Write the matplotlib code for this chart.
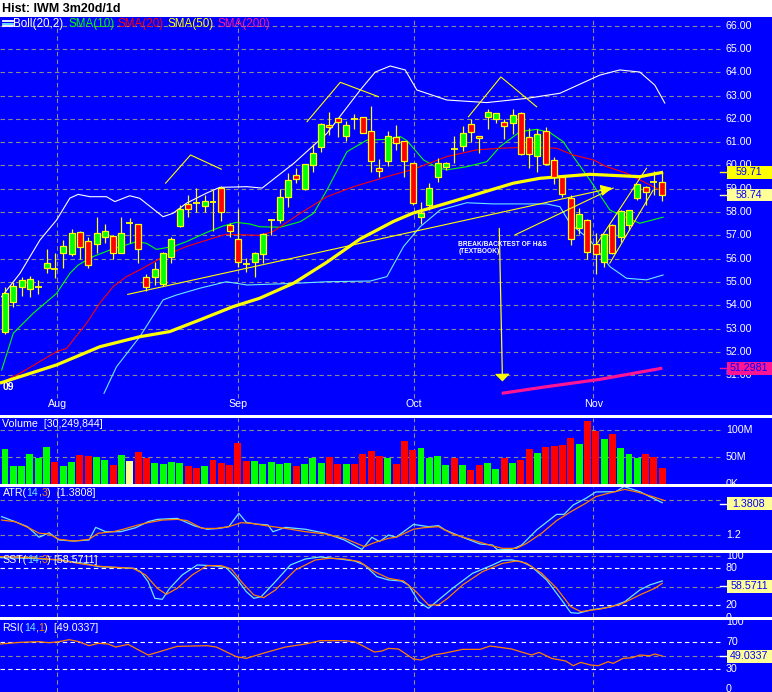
import matplotlib
matplotlib.use("Agg")
import matplotlib.pyplot as plt
from matplotlib.patches import Rectangle
from matplotlib.lines import Line2D

W, H = 772, 692
FONT = ["Liberation Sans", "DejaVu Sans"]
plt.rcParams["font.family"] = FONT

BLUE = "#0000FF"
GRID = "#8c8c8c"
YELLOW = "#FFFF00"
PALE = "#FFFF99"
GREEN = "#00FF00"
RED = "#FF0000"
PINK = "#FF1493"
CYAN = "#70E8FF"
ORANGE = "#FF8000"

# bar k sits at pixel x = 5 + 8.32 * k
X0, DX = 5.0, 8.32


def kx(px):
    return (px - X0) / DX


XMIN, XMAX = kx(0), kx(W)
GRID_END = kx(723)
LABEL_X = kx(726)

# ---- daily candles, IWM 23 Jul - 12 Nov 2009
opens = [52.87, 54.15, 54.77, 54.71, 54.80, 55.59, 55.56, 56.23, 56.19, 57.16,
         56.75, 56.62, 56.92, 56.97, 56.26, 57.55, 57.47, 55.23, 55.20, 54.90,
         56.09, 57.42, 58.35, 58.38, 58.26, 58.42, 59.02, 57.43, 56.83, 55.76,
         55.87, 56.19, 57.66, 57.66, 58.63, 59.58, 58.98, 60.01, 60.78, 61.75,
         62.05, 61.28, 61.99, 62.09, 61.49, 59.88, 60.21, 61.24, 61.07, 60.09,
         57.78, 58.30, 59.49, 59.95, 60.69, 60.84, 61.77, 61.27, 62.07, 61.98,
         61.85, 61.84, 62.24, 61.21, 60.40, 61.48, 60.24, 59.52, 58.59, 57.30,
         57.66, 56.62, 55.87, 57.45, 56.95, 57.45, 58.59, 59.06, 59.29, 59.29]
highs = [54.80, 55.01, 55.23, 55.26, 55.09, 56.40, 56.26, 56.80, 57.27, 57.20,
         56.95, 57.80, 57.47, 57.02, 57.80, 57.73, 57.50, 55.34, 55.87, 56.30,
         56.95, 58.30, 58.72, 59.02, 58.73, 58.95, 59.12, 57.55, 58.12, 56.02,
         56.30, 57.10, 57.70, 58.99, 59.69, 59.91, 60.06, 60.92, 61.81, 62.30,
         62.05, 61.92, 62.21, 62.10, 62.55, 60.26, 61.49, 61.74, 61.07, 60.09,
         58.45, 59.23, 60.31, 60.16, 61.27, 61.70, 61.98, 61.27, 62.41, 62.27,
         61.98, 62.41, 62.30, 61.60, 61.55, 61.67, 60.38, 59.59, 58.73, 58.16,
         57.70, 57.09, 57.05, 57.50, 58.09, 58.10, 59.21, 59.10, 59.76, 59.72]
lows = [52.77, 53.94, 54.40, 54.34, 54.48, 55.37, 55.16, 55.59, 56.12, 55.97,
        55.59, 56.26, 56.69, 55.97, 56.23, 56.66, 55.80, 54.63, 54.87, 54.83,
        55.83, 57.35, 57.80, 58.02, 58.02, 57.20, 57.63, 56.92, 55.66, 55.44,
        55.20, 55.80, 57.02, 57.52, 58.20, 59.23, 58.95, 59.74, 60.59, 61.31,
        61.24, 61.07, 61.55, 61.40, 59.74, 59.49, 59.98, 60.67, 59.52, 58.30,
        57.49, 58.09, 59.31, 59.81, 60.12, 60.62, 61.02, 60.52, 61.55, 61.81,
        61.12, 61.35, 60.45, 59.90, 59.74, 60.02, 59.21, 58.66, 56.59, 57.06,
        56.00, 55.33, 55.66, 56.20, 56.73, 57.23, 58.50, 58.30, 58.73, 58.49]
closes = [54.51, 54.83, 55.09, 55.11, 54.80, 55.80, 55.56, 56.56, 57.09, 56.52,
          55.72, 57.09, 57.17, 56.26, 57.09, 57.55, 56.40, 54.80, 55.54, 56.23,
          56.83, 58.12, 58.12, 58.38, 58.49, 58.42, 58.02, 57.17, 55.87, 55.76,
          56.23, 57.05, 57.66, 58.63, 59.38, 59.41, 60.06, 60.52, 61.77, 61.64,
          61.88, 61.72, 61.99, 61.41, 60.18, 59.78, 61.27, 60.95, 60.21, 58.40,
          57.97, 59.02, 60.12, 60.12, 60.69, 61.38, 61.42, 61.17, 62.31, 62.27,
          61.69, 62.15, 60.49, 60.49, 61.36, 60.06, 59.52, 58.78, 56.85, 57.90,
          56.30, 56.19, 57.05, 56.23, 58.05, 58.09, 59.21, 58.86, 59.29, 58.74]

# volume in millions, colour code g/r/y per bar
volume = [66, 33, 34, 56, 49, 69, 41, 33, 41, 55, 52, 51, 45, 36, 54, 43, 60, 49, 40, 38,
          41, 40, 34, 30, 34, 45, 40, 36, 77, 44, 43, 38, 41, 38, 40, 33, 38, 49, 40, 51,
          38, 38, 38, 56, 62, 52, 49, 38, 81, 64, 67, 49, 52, 36, 49, 36, 27, 36, 40, 28,
          49, 40, 45, 66, 58, 69, 71, 73, 86, 75, 118, 99, 84, 93, 67, 56, 49, 56, 51, 30]
vol_colors = ("ggggggrggrrggrgyrrggggrrgrrrrrgggggrgggrrgrrrrgrrrggggrgrrggrgrrgrrrrgrrgrgggrrr")

month_pos = [6.3, 28.0, 49.1, 70.7]
month_names = ["Aug", "Sep", "Oct", "Nov"]

# ---- overlays (bar index, price)
sma10_x = [-0.4, 1.0, 3.4, 6.2, 7.8, 8.8, 10.6, 12.6, 15.8, 17.0, 18.2, 20.2, 21.8, 24.2,
           26.2, 27.8, 29.4, 30.6, 33.1, 35.5, 37.1, 38.7, 41.1, 43.5, 45.9, 47.5, 48.3,
           50.3, 51.9, 53.1, 55.5, 57.9, 59.5, 61.9, 63.9, 65.5, 67.1, 68.3, 70.3, 72.7,
           73.9, 76.3, 79.1]
sma10 = [51.22, 52.80, 53.66, 54.51, 55.37, 55.73, 56.09, 56.37, 56.73, 56.66, 56.40,
         56.52, 56.73, 57.12, 57.40, 57.56, 57.49, 57.37, 57.35, 57.59, 57.95, 58.95,
         60.59, 61.09, 61.12, 61.24, 61.07, 60.24, 59.92, 59.81, 59.95, 60.16, 60.81,
         61.45, 61.55, 61.41, 61.02, 60.38, 59.38, 58.09, 57.88, 57.52, 57.78]
sma20_x = [-0.6, 1.8, 6.2, 7.4, 9.8, 11.4, 13.0, 14.6, 16.2, 19.4, 21.8, 25.0, 26.6, 30.6,
           32.2, 35.5, 38.7, 41.9, 45.9, 49.1, 53.1, 56.7, 59.5, 62.7, 66.3, 68.3, 70.7,
           72.3, 74.7, 76.3, 78.7]
sma20 = [50.65, 51.08, 52.01, 52.15, 53.23, 54.09, 54.80, 55.23, 55.52, 56.16, 56.52,
         56.88, 57.05, 57.00, 57.16, 57.95, 58.66, 59.09, 59.52, 59.84, 60.38, 60.67,
         60.74, 60.78, 60.74, 60.45, 60.24, 59.95, 59.67, 59.38, 58.95]
sma50_x = [-0.6, 6.2, 11.4, 16.2, 19.8, 23.4, 27.4, 30.6, 34.7, 38.7, 42.7, 46.7, 49.0,
           53.1, 57.1, 61.1, 64.3, 70.3, 76.3, 79.1]
sma50 = [50.66, 51.44, 52.22, 52.65, 52.87, 53.37, 53.94, 54.30, 54.95, 55.85, 56.85,
         57.60, 57.95, 58.38, 58.81, 59.24, 59.45, 59.62, 59.52, 59.71]
sma200_x = [59.7, 65.0, 71.5, 79.0]
sma200 = [50.22, 50.50, 50.82, 51.30]
bb_up_x = [-0.4, 1.8, 4.2, 6.2, 7.8, 8.8, 10.2, 12.2, 13.2, 15.0, 16.2, 19.0, 20.2, 21.8,
           24.2, 25.8, 29.1, 30.9, 34.7, 38.7, 42.7, 44.5, 46.3, 48.1, 49.5, 53.1, 57.9,
           62.7, 66.7, 71.5, 73.9, 76.3, 78.1, 79.3]
bb_up = [54.37, 55.37, 56.80, 57.66, 58.60, 58.76, 58.66, 58.66, 58.45, 58.70, 58.59,
         57.80, 57.95, 58.38, 58.81, 59.06, 59.09, 59.03, 60.09, 61.38, 63.24, 64.01,
         64.27, 64.10, 63.24, 62.81, 62.70, 62.88, 63.10, 63.88, 64.10, 64.01, 63.45, 62.68]
bb_lo_x = [11.9, 13.4, 16.2, 19.0, 20.6, 23.4, 26.6, 29.1, 34.7, 38.7, 43.9, 45.9, 47.9,
           49.9, 52.3, 55.5, 58.7, 65.1, 66.7, 67.9, 70.3, 72.7, 74.7, 77.1, 79.1]
bb_lo = [50.22, 51.36, 52.65, 54.23, 54.44, 54.73, 55.01, 54.87, 54.94, 55.01, 55.04,
         55.23, 56.52, 57.37, 58.09, 58.40, 58.35, 58.35, 58.23, 57.52, 56.80, 55.66,
         55.16, 55.09, 55.30]

# hand-drawn trend lines and H&S marks (bar index, price)
trend_long = [(14.4, 54.44), (73.3, 59.06)]
trend_short = [(61.3, 57.02), (73.1, 59.03)]
channel_a = [(71.2, 56.67), (77.1, 59.88)]
channel_b = [(72.7, 55.81), (77.9, 58.94)]
shoulder_l = [(19.3, 59.24), (22.3, 60.45), (26.0, 59.84)]
head = [(36.3, 61.88), (40.3, 63.57), (44.9, 62.95)]
shoulder_r = [(55.7, 62.09), (59.6, 63.80), (63.9, 62.52)]
drop_arrow = [(59.4, 57.42), (59.8, 50.61)]
note_pos = (54.5, 56.61)

# ---- indicators (bar index, value)
atr_x = [-0.4, 1.2, 2.7, 4.1, 5.3, 6.5, 8.3, 10.1, 10.9, 12.1, 13.9, 15.7, 17.2, 18.3,
         20.7, 22.8, 24.3, 25.7, 26.9, 28.1, 29.0, 30.2, 31.6, 32.2, 33.7, 36.1, 38.5,
         40.8, 42.9, 44.1, 45.0, 46.1, 47.0, 49.1, 50.9, 52.1, 52.9, 55.0, 57.1, 58.6,
         59.2, 60.9, 62.1, 63.9, 66.3, 67.2, 68.3, 69.8, 71.0, 73.4, 74.4, 76.3, 77.5, 79.0]
atr = [1.306, 1.277, 1.248, 1.187, 1.213, 1.171, 1.165, 1.171, 1.244, 1.219, 1.219, 1.242,
       1.277, 1.290, 1.296, 1.252, 1.233, 1.238, 1.248, 1.325, 1.273, 1.263, 1.258, 1.219,
       1.244, 1.233, 1.210, 1.171, 1.117, 1.187, 1.162, 1.200, 1.187, 1.261, 1.248, 1.254,
       1.229, 1.187, 1.148, 1.142, 1.114, 1.117, 1.142, 1.229, 1.319, 1.319, 1.373, 1.411,
       1.448, 1.450, 1.479, 1.450, 1.421, 1.386]
atr_sig_x = [-0.4, 1.2, 3.0, 4.1, 5.3, 6.5, 8.3, 10.1, 11.2, 13.0, 14.2, 16.0, 17.2, 18.9,
             20.7, 21.9, 23.7, 25.4, 26.9, 28.4, 29.6, 31.6, 33.7, 36.1, 38.5, 40.8, 43.2,
             44.4, 46.1, 47.0, 49.1, 50.3, 52.1, 53.8, 56.2, 58.6, 59.8, 61.5, 62.7, 64.5,
             66.3, 68.0, 69.8, 71.0, 72.8, 74.5, 76.3, 78.1, 79.3]
atr_sig = [1.286, 1.277, 1.238, 1.210, 1.206, 1.175, 1.165, 1.175, 1.210, 1.219, 1.233,
           1.258, 1.271, 1.286, 1.290, 1.283, 1.238, 1.238, 1.248, 1.271, 1.267, 1.252,
           1.238, 1.219, 1.206, 1.181, 1.133, 1.156, 1.181, 1.187, 1.233, 1.242, 1.248,
           1.206, 1.171, 1.137, 1.123, 1.123, 1.152, 1.210, 1.283, 1.334, 1.383, 1.421,
           1.444, 1.463, 1.444, 1.417, 1.398]
sst_k_x = [-0.6, 3.0, 6.5, 9.5, 11.2, 15.4, 16.3, 17.2, 18.0, 18.9, 19.8, 21.3, 23.1, 24.8,
           26.6, 27.8, 29.0, 29.9, 30.8, 32.5, 34.3, 36.1, 37.9, 40.2, 42.0, 43.2, 44.7,
           46.1, 47.6, 48.5, 49.7, 50.9, 52.1, 53.8, 56.2, 58.6, 59.8, 60.9, 62.1, 63.3,
           65.1, 66.9, 68.0, 68.9, 70.4, 72.8, 74.5, 76.3, 77.5, 79.0]
sst_k = [97.2, 96.1, 93.4, 88.0, 82.6, 79.9, 74.5, 58.3, 31.3, 29.6, 47.5, 69.1, 85.3, 84.2,
         81.0, 63.7, 42.1, 31.3, 34.0, 58.3, 85.3, 95.0, 98.3, 95.0, 91.8, 85.3, 66.4, 61.0,
         59.4, 52.9, 25.9, 15.1, 28.6, 47.5, 71.8, 85.3, 92.9, 93.4, 90.7, 82.6, 61.0, 28.6,
         8.0, 7.0, 12.4, 17.2, 25.9, 44.8, 52.9, 59.4]
sst_d_x = [-0.6, 3.0, 6.5, 9.5, 11.8, 15.4, 16.9, 18.3, 19.4, 20.7, 22.5, 24.3, 26.0, 27.2,
           28.4, 29.9, 31.1, 32.5, 34.9, 37.3, 39.0, 40.8, 42.6, 44.4, 46.1, 47.9, 49.4,
           50.9, 52.1, 53.2, 55.0, 57.4, 59.8, 61.5, 62.7, 64.5, 66.3, 68.0, 69.2, 71.6,
           74.0, 76.3, 78.1, 79.0]
sst_d = [98.8, 97.2, 93.4, 86.4, 82.6, 79.9, 69.1, 47.5, 37.7, 47.5, 69.1, 84.2, 84.2, 78.8,
         58.3, 36.7, 32.3, 44.8, 77.2, 93.4, 96.1, 95.0, 90.7, 74.5, 63.7, 59.4, 42.1, 20.5,
         20.5, 31.3, 52.9, 74.5, 88.0, 91.8, 88.0, 71.8, 47.5, 17.8, 9.7, 14.0, 21.5, 36.7,
         47.5, 55.6]
rsi_x = [-0.6, 1.8, 4.1, 5.3, 6.5, 7.7, 8.9, 10.1, 11.2, 12.4, 13.3, 14.8, 17.2, 18.3, 20.7,
         24.3, 25.4, 27.8, 29.0, 31.4, 33.7, 36.1, 37.9, 40.8, 42.0, 43.2, 44.4, 45.3, 46.1,
         47.3, 49.1, 50.0, 51.5, 52.7, 55.0, 57.1, 58.3, 59.8, 60.9, 63.3, 64.2, 65.7, 67.4,
         68.3, 69.2, 70.4, 71.3, 72.5, 73.1, 74.3, 75.4, 76.3, 77.5, 78.1, 79.0]
rsi = [67.4, 69.9, 70.9, 69.4, 70.9, 73.9, 70.9, 64.9, 68.4, 67.4, 62.9, 66.9, 50.9, 54.9,
       63.9, 64.9, 62.9, 48.4, 45.9, 54.9, 62.9, 67.4, 72.4, 72.4, 70.9, 63.4, 55.4, 56.9,
       60.9, 59.9, 44.9, 43.4, 50.9, 53.4, 59.4, 59.4, 64.4, 61.9, 59.9, 50.9, 54.9, 45.9,
       41.9, 34.9, 39.9, 35.9, 34.9, 40.9, 38.4, 45.9, 46.9, 50.9, 49.9, 52.4, 49.4]

DASH = (0, (4, 3))
fig = plt.figure(figsize=(W / 100, H / 100), dpi=100, facecolor="white")


def panel(top, bottom, ylim):
    ax = fig.add_axes([0, 1 - bottom / H, 1, (bottom - top) / H])
    ax.set_facecolor(BLUE)
    ax.set_xlim(XMIN, XMAX)
    ax.set_ylim(*ylim)
    ax.set_xticks([])
    ax.set_yticks([])
    for s in ax.spines.values():
        s.set_visible(False)
    return ax


def hgrid(ax, levels, color=GRID):
    ax.hlines(levels, XMIN, GRID_END, colors=color, lw=0.8, linestyles=[DASH], zorder=1)


def vgrid(ax, lo=None):
    y0, y1 = ax.get_ylim()
    ax.vlines(month_pos, y0 if lo is None else lo, y1, colors=GRID, lw=0.8,
              linestyles=[DASH], zorder=1)


def right_labels(ax, levels, texts):
    for v, s in zip(levels, texts):
        ax.text(LABEL_X, v, s, color="white", fontsize=7.7, va="center", ha="left",
                clip_on=True, zorder=6)


def value_box(yc, text, face, tick):
    fig.add_artist(Rectangle((726.5 / W, 1 - (yc + 6.3) / H), 45 / W, 12.6 / H,
                             transform=fig.transFigure, facecolor=face,
                             edgecolor="none", zorder=10))
    fig.text(749 / W, 1 - yc / H, text, color=BLUE, fontsize=7.7, ha="center",
             va="center", zorder=11)
    fig.add_artist(Line2D([720 / W, 726 / W], [1 - yc / H] * 2, color=tick, lw=1,
                          transform=fig.transFigure, zorder=10))


def ypix(ax, v):
    return H - ax.transData.transform((0, v))[1]


def parts_text(x, y, parts, size=7.7):
    r = fig.canvas.get_renderer()
    for s, c in parts:
        t = fig.text(x / W, 1 - y / H, s, color=c, fontsize=size, va="center",
                     ha="left", zorder=12)
        x += t.get_window_extent(renderer=r).width


# ---------------- price panel
ax = panel(17.3, 415, (49.29, 66.36))
hgrid(ax, list(range(51, 67)))
vgrid(ax, lo=50.0)
right_labels(ax, range(66, 50, -1), ["%d.00" % v for v in range(66, 50, -1)])
for p, m in zip(month_pos, month_names):
    ax.text(p, 49.76, m, color="white", fontsize=7.7, ha="center", va="center")
ax.text(kx(3), 50.49, "09", color="white", fontsize=7.5, fontweight="bold",
        ha="left", va="center")

ax.plot(bb_up_x, bb_up, color="white", lw=0.8, zorder=3)
ax.plot(bb_lo_x, bb_lo, color=CYAN, lw=0.8, zorder=3)
ax.plot(sma10_x, sma10, color=GREEN, lw=0.8, zorder=3)
ax.plot(sma20_x, sma20, color=RED, lw=0.8, zorder=3)
ax.plot(sma50_x, sma50, color=YELLOW, lw=2.3, zorder=3, solid_capstyle="butt")
ax.plot(sma200_x, sma200, color=PINK, lw=2.3, zorder=3, solid_capstyle="butt")

for k in range(len(opens)):
    o, h, l, c = opens[k], highs[k], lows[k], closes[k]
    ax.vlines(k, l, h, colors=YELLOW, lw=0.9, zorder=4)
    if abs(c - o) < 0.02:
        ax.hlines(o, k - 0.42, k + 0.42, colors=YELLOW, lw=1.3, zorder=5)
    else:
        ax.add_patch(Rectangle((k - 0.36, min(o, c)), 0.72, abs(c - o),
                               facecolor=GREEN if c > o else RED, edgecolor=YELLOW,
                               lw=0.9, zorder=5))

for seg in (trend_short, channel_a, channel_b, shoulder_l, head, shoulder_r):
    xs, ys = zip(*seg)
    ax.plot(xs, ys, color=YELLOW, lw=0.8, zorder=6)
ax.annotate("", xy=trend_long[1], xytext=trend_long[0],
            arrowprops=dict(arrowstyle="-|>,head_length=0.7,head_width=0.35",
                            color=YELLOW, lw=0.8, mutation_scale=10), zorder=6)
ax.annotate("", xy=drop_arrow[1], xytext=drop_arrow[0],
            arrowprops=dict(arrowstyle="-|>,head_length=0.45,head_width=0.45",
                            color=YELLOW, lw=0.9, mutation_scale=10), zorder=6)
ax.text(note_pos[0], note_pos[1], "BREAK/BACKTEST OF H&S", color="white", fontsize=4.8,
        fontweight="bold", ha="left", va="center", zorder=7)
ax.text(note_pos[0], note_pos[1] - 0.30, "(TEXTBOOK)", color="white", fontsize=4.8,
        fontweight="bold", ha="left", va="center", zorder=7)

fig.text(2 / W, 1 - 8.5 / H, "Hist: IWM 3m20d/1d", fontsize=9, fontweight="bold",
         color="black", va="center")
for yy, cc in ((21.3, "white"), (23.6, CYAN), (25.9, "white")):
    fig.add_artist(Line2D([3 / W, 13 / W], [1 - yy / H] * 2, color=cc, lw=1.3,
                          transform=fig.transFigure))
for x, s, c in ((13.5, "Boll(20,2)", "white"), (68.5, "SMA(10)", GREEN),
                (117.5, "SMA(20)", RED), (168, "SMA(50)", YELLOW),
                (217, "SMA(200)", PINK)):
    fig.text(x / W, 1 - 24.3 / H, s, color=c, fontsize=8.4, va="center", ha="left")

value_box(ypix(ax, 59.71), "59.71", YELLOW, YELLOW)
value_box(ypix(ax, 58.74), "58.74", PALE, PALE)
value_box(ypix(ax, 51.2981), "51.2981", PINK, PINK)

# ---------------- volume
av = panel(417.5, 483.5, (1.48, 123.7))
hgrid(av, [50, 100])
vgrid(av)
cmap = {"g": GREEN, "r": RED, "y": PALE}
av.bar(range(len(volume)), volume, width=0.84, color=[cmap[c] for c in vol_colors],
       zorder=3)
right_labels(av, [100, 50, 0], ["100M", "50M", "0K"])
fig.text(2.5 / W, 1 - 424.3 / H, "Volume  [30,249,844]", color="white", fontsize=7.7,
         va="center")

# ---------------- ATR
aa = panel(486.7, 550, (1.1135, 1.4784))
hgrid(aa, [1.2, 1.4])
vgrid(aa)
aa.plot(atr_x, atr, color=CYAN, lw=0.9, zorder=3)
aa.plot(atr_sig_x, atr_sig, color=ORANGE, lw=0.9, zorder=4)
right_labels(aa, [1.2], ["1.2"])
value_box(ypix(aa, 1.3808), "1.3808", PALE, "white")
parts_text(2.5, 492.7, [("ATR(", "white"), ("14", CYAN), (",", "white"), ("3", ORANGE),
                        (")", "white"), ("  [1.3808]", "white")])

# ---------------- SST
ast = panel(553.3, 616.7, (1.46, 104.2))
hgrid(ast, [100, 50])
hgrid(ast, [80, 20], color="white")
vgrid(ast)
ast.plot(sst_k_x, sst_k, color=CYAN, lw=0.9, zorder=3)
ast.plot(sst_d_x, sst_d, color=ORANGE, lw=0.9, zorder=4)
right_labels(ast, [100, 80, 20, 0], ["100", "80", "20", "0"])
value_box(ypix(ast, 50.7), "58.5711", PALE, "white")
parts_text(2.5, 560, [("SST(", "white"), ("14", CYAN), (",", "white"), ("3", ORANGE),
                      (")", "white"), (" [58.5711]", "white")])

# ---------------- RSI
ar = panel(620, 692, (-4.49, 103.4))
hgrid(ar, [50])
hgrid(ar, [70, 30], color="white")
vgrid(ar)
ar.plot(rsi_x, rsi, color=ORANGE, lw=0.9, zorder=3)
right_labels(ar, [100, 70, 30, 0], ["100", "70", "30", "0"])
value_box(ypix(ar, 49.0337), "49.0337", PALE, "white")
parts_text(2.5, 628.3, [("RSI(", "white"), ("14", CYAN), (",", "white"), ("1", ORANGE),
                        (")", "white"), ("  [49.0337]", "white")])

fig.savefig("out.png", dpi=100, facecolor="white")
